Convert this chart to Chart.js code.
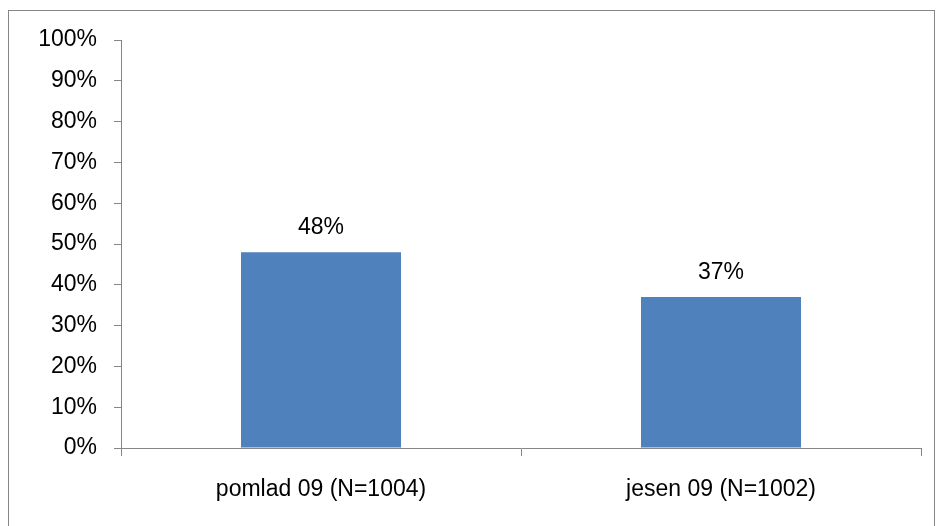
<!DOCTYPE html>
<html>
<head>
<meta charset="utf-8">
<script src="https://cdn.jsdelivr.net/npm/chart.js@4"></script>
<style>
  html, body { margin: 0; padding: 0; background: #ffffff; }
  #wrap { position: relative; width: 937px; height: 526px; }
</style>
</head>
<body>
<div id="wrap"><canvas id="c" width="937" height="526"></canvas></div>
<script>
// Survey waves and share of respondents (percent)
const categories = ['pomlad 09 (N=1004)', 'jesen 09 (N=1002)'];
const shares = [48, 37];
const yTicks = [0, 10, 20, 30, 40, 50, 60, 70, 80, 90, 100];

const FONT = "'Liberation Sans', Arial, sans-serif";
const AXIS_GREY = '#868686';
const BAR_BLUE = '#4F81BD';

// Grey frame around the whole chart
const framePlugin = {
  id: 'frame',
  beforeDraw(chart) {
    const ctx = chart.ctx;
    ctx.save();
    ctx.fillStyle = '#ffffff';
    ctx.fillRect(0, 0, chart.width, chart.height);
    ctx.strokeStyle = AXIS_GREY;
    ctx.lineWidth = 1;
    ctx.strokeRect(8.5, 10.5, 926, 560);
    ctx.restore();
  }
};

// Percentage labels above each bar
const valueLabels = {
  id: 'valueLabels',
  afterDatasetsDraw(chart) {
    const ctx = chart.ctx;
    const meta = chart.getDatasetMeta(0);
    ctx.save();
    ctx.font = '23px ' + FONT;
    ctx.fillStyle = '#000000';
    ctx.textAlign = 'center';
    ctx.textBaseline = 'alphabetic';
    meta.data.forEach((bar, i) => {
      const v = chart.data.datasets[0].data[i];
      ctx.fillText(v + '%', bar.x, bar.y - 18);
    });
    ctx.restore();
  }
};

new Chart(document.getElementById('c'), {
  type: 'bar',
  data: {
    labels: categories,
    datasets: [{
      data: shares,
      backgroundColor: BAR_BLUE,
      borderWidth: 0,
      categoryPercentage: 0.8,
      barPercentage: 0.5
    }]
  },
  options: {
    responsive: false,
    animation: false,
    layout: { padding: { top: 40, right: 16, left: 0, bottom: 0 } },
    plugins: {
      legend: { display: false },
      tooltip: { enabled: false }
    },
    scales: {
      x: {
        offset: true,
        grid: {
          offset: true,
          drawOnChartArea: false,
          drawTicks: true,
          tickLength: 8,
          color: AXIS_GREY
        },
        border: { color: AXIS_GREY, width: 1 },
        ticks: {
          color: '#000000',
          font: { family: FONT, size: 23 },
          padding: 20,
          maxRotation: 0,
          autoSkip: false
        },
        afterFit(scale) { scale.height = 78; }
      },
      y: {
        min: 0,
        max: 100,
        afterBuildTicks(scale) {
          scale.ticks = yTicks.map(v => ({ value: v }));
        },
        grid: {
          drawOnChartArea: false,
          drawTicks: true,
          tickLength: 7,
          color: AXIS_GREY
        },
        border: { color: AXIS_GREY, width: 1 },
        ticks: {
          color: '#000000',
          font: { family: FONT, size: 23 },
          padding: 17,
          callback: v => v + '%'
        },
        afterFit(scale) { scale.width = 121; }
      }
    }
  },
  plugins: [framePlugin, valueLabels]
});
</script>
</body>
</html>
